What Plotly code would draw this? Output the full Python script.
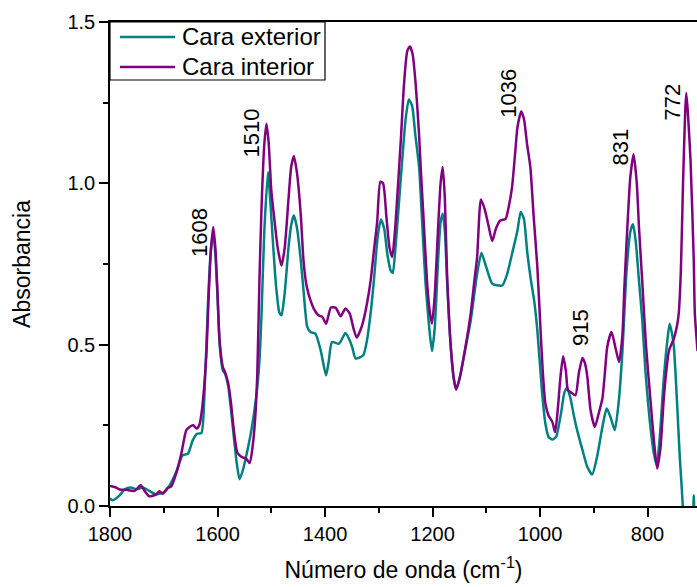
import plotly.graph_objects as go

# ---- data ----
x_int = [1800,1790,1782,1770,1754,1743,1735,1727,1714,1708,1702,1693,1686,1677,1668,1658,1652,1645,1639,1634,
         1629,1621,1616,1612,1608,1604,1600,1596,1590,1586,1580,1575,1570,1563,1555,1547,1540,1535,1530,1526,
         1522,1518,1513,1509,1505,1500,1495,1488,1481,1475,1468,1463,1458,1452,1445,1440,1434,1427,1421,1412,
         1405,1398,1389,1380,1371,1362,1354,1347,1341,1331,1322,1315,1309,1303,1297,1292,1286,1280,1275,1270,
         1264,1259,1253,1247,1242,1237,1231,1225,1222,1216,1210,1205,1201,1196,1190,1185,1181,1177,1173,1166,
         1160,1156,1149,1142,1135,1129,1122,1117,1110,1103,1096,1089,1082,1074,1064,1058,1052,1046,1042,1035,
         1030,1024,1018,1012,1005,999,995,990,984,977,972,967,962,957,952,948,941,934,928,921,
         916,912,906,898,891,884,879,875,867,860,853,847,843,838,832,826,820,816,810,803,
         794,788,782,776,770,765,760,751,745,742,738,734,730,728,725,720,714,712,707]
y_int = [0.062,0.058,0.051,0.050,0.047,0.064,0.045,0.030,0.036,0.046,0.038,0.056,0.061,0.100,0.157,0.235,0.245,0.250,0.240,0.250,
         0.297,0.462,0.668,0.800,0.865,0.800,0.660,0.510,0.430,0.415,0.380,0.320,0.240,0.165,0.152,0.147,0.133,0.180,0.270,0.410,
         0.700,0.930,1.120,1.185,1.130,0.980,0.900,0.800,0.745,0.800,0.950,1.050,1.085,1.030,0.900,0.760,0.680,0.637,0.612,0.591,
         0.586,0.565,0.615,0.614,0.588,0.612,0.596,0.550,0.522,0.560,0.627,0.700,0.792,0.880,1.005,1.000,0.900,0.800,0.772,0.850,
         1.000,1.133,1.309,1.410,1.424,1.400,1.300,1.150,1.050,0.870,0.690,0.600,0.565,0.650,0.850,1.000,1.051,0.950,0.720,0.493,
         0.390,0.361,0.400,0.462,0.530,0.596,0.700,0.772,0.950,0.920,0.870,0.821,0.860,0.885,0.890,0.930,0.989,1.100,1.174,1.223,
         1.200,1.120,1.050,0.900,0.740,0.544,0.420,0.317,0.280,0.260,0.229,0.300,0.400,0.464,0.420,0.359,0.350,0.343,0.410,0.459,
         0.440,0.400,0.297,0.245,0.286,0.333,0.420,0.493,0.539,0.493,0.446,0.524,0.680,0.850,1.020,1.090,1.000,0.865,0.700,0.500,
         0.317,0.200,0.116,0.180,0.328,0.420,0.482,0.519,0.560,0.596,0.730,1.000,1.220,1.280,1.220,1.070,0.760,0.596,0.480]

x_ext = [1800,1795,1782,1773,1761,1751,1739,1727,1714,1699,1689,1677,1665,1655,1646,1638,1630,1624,1618,1613,
         1608,1604,1600,1596,1590,1586,1580,1575,1570,1564,1559,1553,1547,1537,1528,1522,1518,1513,1506,1502,
         1497,1491,1485,1481,1475,1468,1463,1458,1452,1445,1440,1433,1427,1418,1408,1398,1393,1387,1374,1362,
         1354,1349,1343,1329,1322,1315,1309,1302,1296,1290,1284,1278,1274,1269,1262,1256,1250,1244,1238,1232,
         1225,1219,1213,1206,1201,1196,1190,1185,1181,1177,1173,1166,1160,1156,1149,1142,1129,1117,1109,1100,
         1089,1080,1070,1061,1052,1042,1036,1030,1024,1017,1011,1005,996,990,984,977,970,965,960,955,
         950,944,937,931,921,912,903,894,884,876,869,861,854,847,839,832,827,822,816,810,
         804,794,788,783,777,770,764,759,754,751,745,740,735,730,722,716,714,712,705]
y_ext = [0.023,0.018,0.033,0.051,0.057,0.052,0.057,0.047,0.036,0.043,0.064,0.105,0.157,0.162,0.204,0.224,0.226,0.359,0.617,0.780,
         0.848,0.780,0.650,0.500,0.420,0.410,0.370,0.300,0.220,0.130,0.083,0.110,0.152,0.235,0.338,0.450,0.600,0.850,1.035,0.950,
         0.820,0.680,0.600,0.591,0.660,0.800,0.870,0.901,0.860,0.760,0.668,0.555,0.539,0.534,0.482,0.405,0.450,0.508,0.503,0.536,
         0.513,0.490,0.457,0.467,0.513,0.600,0.700,0.834,0.888,0.860,0.780,0.730,0.722,0.800,0.950,1.081,1.200,1.260,1.240,1.150,
         1.050,0.870,0.690,0.550,0.480,0.550,0.750,0.880,0.906,0.850,0.700,0.490,0.390,0.361,0.400,0.460,0.575,0.720,0.784,0.740,
         0.689,0.684,0.684,0.720,0.782,0.854,0.911,0.890,0.790,0.700,0.637,0.544,0.348,0.255,0.214,0.206,0.215,0.250,0.297,0.350,
         0.366,0.338,0.280,0.235,0.173,0.121,0.098,0.152,0.245,0.302,0.276,0.235,0.317,0.472,0.730,0.850,0.873,0.820,0.700,0.580,
         0.420,0.235,0.160,0.126,0.220,0.390,0.500,0.565,0.530,0.493,0.317,0.150,0.018,-0.200,-0.300,-0.100,0.033,-0.100,-0.300]

peak_labels = ["1608", "1510", "1036", "915", "831", "772"]
label_x = [1634, 1536, 1059, 926, 850, 753]
label_y = [0.847, 1.157, 1.279, 0.554, 1.113, 1.253]

series_names = ["Cara exterior", "Cara interior"]
series_colors = ["#008080", "#800080"]
x_ticks = [1800, 1600, 1400, 1200, 1000, 800]
y_ticks = [0.0, 0.5, 1.0, 1.5]

FONT = "Arial, Liberation Sans, sans-serif"

# plot-area geometry (pixels) used to place the hand-made legend
L, R, T, B = 110, 0, 22, 81
W, H = 697, 587
PW, PH = W - L - R, H - T - B
def px(xp):
    return (xp - L) / PW
def py(yp):
    return (H - B - yp) / PH

fig = go.Figure()
fig.add_trace(go.Scatter(x=x_ext, y=y_ext, mode="lines", name=series_names[0], showlegend=False,
                         line=dict(color=series_colors[0], width=2.5, shape="spline", smoothing=0.6)))
fig.add_trace(go.Scatter(x=x_int, y=y_int, mode="lines", name=series_names[1], showlegend=False,
                         line=dict(color=series_colors[1], width=2.5, shape="spline", smoothing=0.6)))

for t, lx, ly in zip(peak_labels, label_x, label_y):
    fig.add_annotation(x=lx, y=ly, text=t, textangle=-90, showarrow=False,
                       xanchor="center", yanchor="middle",
                       font=dict(family=FONT, size=22, color="black"))

# legend box
fig.add_shape(type="rect", xref="paper", yref="paper",
              x0=px(110), x1=px(325), y0=py(80), y1=py(22),
              line=dict(color="black", width=1.2), fillcolor="white", layer="above")
for i, (nm, col) in enumerate(zip(series_names, series_colors)):
    yc = 37 + 30 * i
    fig.add_shape(type="line", xref="paper", yref="paper",
                  x0=px(120), x1=px(175), y0=py(yc), y1=py(yc),
                  line=dict(color=col, width=2.5), layer="above")
    fig.add_annotation(xref="paper", yref="paper", x=px(180), y=py(yc), text=nm,
                       showarrow=False, xanchor="left", yanchor="middle",
                       font=dict(family=FONT, size=24, color="black"))

fig.update_layout(
    width=W, height=H,
    margin=dict(l=L, r=R, t=T, b=B),
    paper_bgcolor="white", plot_bgcolor="white",
    font=dict(family=FONT, color="black"),
    showlegend=False,
)
fig.update_xaxes(
    range=[1800, 708], tickvals=x_ticks, ticktext=[str(v) for v in x_ticks],
    ticks="outside", ticklen=9, tickwidth=1.5, tickcolor="black",
    showline=True, linecolor="black", linewidth=1.5, mirror=True,
    showgrid=False, zeroline=False,
    tickfont=dict(family=FONT, size=20, color="black"),
    minor=dict(dtick=100, tick0=0, ticks="outside", ticklen=5, tickwidth=1.5, tickcolor="black", showgrid=False),
    title=dict(text="Número de onda (cm<sup>-1</sup>)", font=dict(family=FONT, size=23, color="black"), standoff=18),
)
fig.update_yaxes(
    range=[0, 1.5], tickvals=y_ticks, ticktext=["0.0", "0.5", "1.0", "1.5"],
    ticks="outside", ticklen=9, tickwidth=1.5, tickcolor="black",
    showline=True, linecolor="black", linewidth=1.5, mirror=False,
    showgrid=False, zeroline=False,
    tickfont=dict(family=FONT, size=20, color="black"),
    minor=dict(dtick=0.25, tick0=0, ticks="outside", ticklen=5, tickwidth=1.5, tickcolor="black", showgrid=False),
    title=dict(text="Absorbancia", font=dict(family=FONT, size=23, color="black"), standoff=30),
)

fig.write_html("out.html")
